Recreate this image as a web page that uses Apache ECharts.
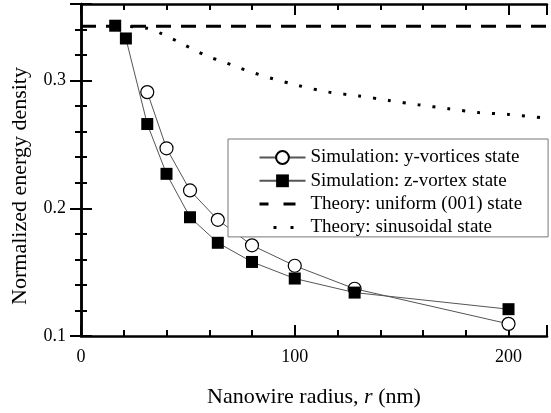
<!DOCTYPE html>
<html>
<head>
<meta charset="utf-8">
<script src="https://cdn.jsdelivr.net/npm/echarts@6/dist/echarts.min.js"></script>
<style>
html,body{margin:0;padding:0;background:#fff;}
#chart{width:551px;height:413px;}
</style>
</head>
<body>
<div id="chart"></div>
<script>
// ---- data ----
const yVortexR = [31, 40, 51, 64, 80, 100, 128, 200];
const yVortexE = [0.291, 0.247, 0.214, 0.191, 0.171, 0.155, 0.137, 0.1095];

const zVortexR = [16, 21, 31, 40, 51, 64, 80, 100, 128, 200];
const zVortexE = [0.343, 0.333, 0.266, 0.227, 0.193, 0.173, 0.158, 0.145, 0.134, 0.121];

const uniformR = [0, 218];
const uniformE = [0.3426, 0.3426];

const sinusR = [16, 31, 38, 46, 53, 60, 67, 74, 81, 88, 102, 116, 130, 144, 158, 172, 186, 200, 218];
const sinusE = [0.343, 0.341, 0.3365, 0.330, 0.324, 0.3185, 0.3145, 0.310, 0.306, 0.3023, 0.296, 0.291, 0.288, 0.2845, 0.281, 0.278, 0.275, 0.2735, 0.2705];

const xMajorTicks = [0, 100, 200];
const yMajorTicks = [0.1, 0.2, 0.3];

const seriesNames = [
  'Simulation: y-vortices state',
  'Simulation: z-vortex state',
  'Theory: uniform (001) state',
  'Theory: sinusoidal state'
];

const zip = (a, b) => a.map((v, i) => [v, b[i]]);
const FONT = '"Liberation Serif", "Times New Roman", serif';

const xMin = 0, xMax = 218, yMin = 0.1, yMax = 0.36;

function xAxisDef(pos, major) {
  return {
    type: 'value', position: pos, min: xMin, max: xMax,
    interval: major ? 100 : 20,
    axisLine: { show: major, lineStyle: { color: '#000', width: 2.5 } },
    axisTick: { show: true, inside: true, length: major ? 11 : 6, lineStyle: { color: '#000', width: 2 } },
    axisLabel: (major && pos === 'bottom') ? {
      show: true, margin: 12, color: '#000', fontFamily: FONT, fontSize: 18,
      formatter: v => xMajorTicks.some(t => Math.abs(t - v) < 1e-6) ? String(v) : ''
    } : { show: false },
    splitLine: { show: false }
  };
}
function yAxisDef(pos, major) {
  return {
    type: 'value', position: pos, min: yMin, max: yMax,
    interval: major ? 0.1 : 0.02,
    axisLine: { show: major, lineStyle: { color: '#000', width: 2.5 } },
    axisTick: { show: true, inside: true, length: major ? 11 : 6, lineStyle: { color: '#000', width: 2 } },
    axisLabel: (major && pos === 'left') ? {
      show: true, margin: 15, color: '#000', fontFamily: FONT, fontSize: 18,
      formatter: v => yMajorTicks.some(t => Math.abs(t - v) < 1e-6) ? v.toFixed(1) : ''
    } : { show: false },
    splitLine: { show: false }
  };
}

const xAxes = [xAxisDef('bottom', true), xAxisDef('bottom', false), xAxisDef('top', true), xAxisDef('top', false)];
xAxes[0].name = 'Nanowire radius, {i|r} (nm)';
xAxes[0].nameLocation = 'middle';
xAxes[0].nameGap = 50;
xAxes[0].nameTextStyle = {
  color: '#000', fontFamily: FONT, fontSize: 22,
  rich: { i: { fontStyle: 'italic', fontFamily: FONT, fontSize: 22, color: '#000' } }
};
const yAxes = [yAxisDef('left', true), yAxisDef('left', false), yAxisDef('right', true), yAxisDef('right', false)];
yAxes[0].name = 'Normalized energy density';
yAxes[0].nameLocation = 'middle';
yAxes[0].nameGap = 50;
yAxes[0].nameTextStyle = { color: '#000', fontFamily: FONT, fontSize: 22, padding: [0, 32, 0, 0] };

const hiddenSymbol = { color: 'rgba(0,0,0,0)', borderColor: 'rgba(0,0,0,0)', borderWidth: 0, opacity: 0 };

const chart = echarts.init(document.getElementById('chart'), null, { renderer: 'canvas' });
chart.setOption({
  animation: false,
  backgroundColor: '#fff',
  grid: { left: 81, right: 4, top: 4, bottom: 73, containLabel: false },
  xAxis: xAxes,
  yAxis: yAxes,
  legend: {
    orient: 'vertical',
    left: 228, top: 139,
    padding: [9, 26, 0, 30],
    itemGap: 4.3,
    itemWidth: 46, itemHeight: 16,
    borderColor: '#777', borderWidth: 1,
    backgroundColor: '#fff',
    textStyle: { color: '#000', fontFamily: FONT, fontSize: 19, lineHeight: 19 },
    data: [
      { name: seriesNames[0] },
      { name: seriesNames[1] },
      { name: seriesNames[2], itemStyle: hiddenSymbol, lineStyle: { type: [12, 15], dashOffset: 3, width: 3 } },
      { name: seriesNames[3], itemStyle: hiddenSymbol, lineStyle: { type: [3, 14], width: 3 } }
    ]
  },
  series: [
    {
      name: seriesNames[0], type: 'line', xAxisIndex: 0, yAxisIndex: 0,
      data: zip(yVortexR, yVortexE),
      symbol: 'circle', symbolSize: 13,
      lineStyle: { color: '#555', width: 1 },
      itemStyle: { color: '#fff', borderColor: '#000', borderWidth: 1.2 },
      z: 3
    },
    {
      name: seriesNames[1], type: 'line', xAxisIndex: 0, yAxisIndex: 0,
      data: zip(zVortexR, zVortexE),
      symbol: 'rect', symbolSize: 12,
      lineStyle: { color: '#555', width: 1 },
      itemStyle: { color: '#000', borderColor: '#000', borderWidth: 0 },
      z: 4
    },
    {
      name: seriesNames[2], type: 'line', xAxisIndex: 0, yAxisIndex: 0,
      data: zip(uniformR, uniformE),
      symbol: 'none',
      lineStyle: { color: '#000', width: 3, type: [15, 10] },
      itemStyle: { color: '#000' },
      z: 2
    },
    {
      name: seriesNames[3], type: 'line', xAxisIndex: 0, yAxisIndex: 0,
      data: zip(sinusR, sinusE),
      symbol: 'none', smooth: 0.3,
      lineStyle: { color: '#000', width: 3, type: [3, 12] },
      itemStyle: { color: '#000' },
      z: 2
    }
  ]
});
</script>
</body>
</html>
